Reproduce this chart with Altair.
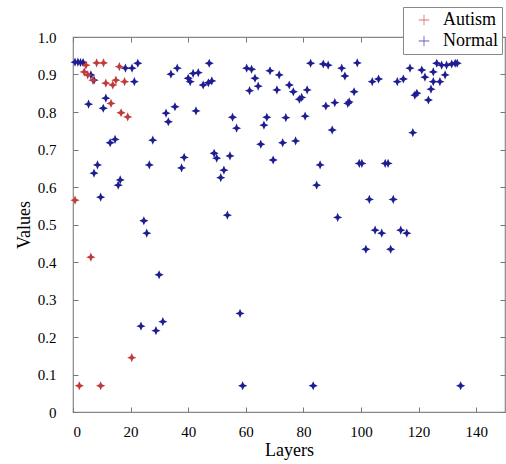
import altair as alt
import pandas as pd

# ---- data ----
autism_layers = [8.2, 10.6, 4.5, 3.9, 5.1, 6.9, 16.1, 11.4, 13.8, 14.9, 17.9, 13.2,
                 16.7, 19.0, 0.7, 6.2, 20.4, 2.2, 9.6]
autism_values = [0.931, 0.931, 0.925, 0.907, 0.899, 0.885, 0.921, 0.877, 0.872, 0.885,
                 0.881, 0.823, 0.798, 0.787, 0.565, 0.413, 0.145, 0.070, 0.070]

normal_layers = [0.7, 1.7, 2.6, 3.5, 6.2, 7.3, 18.2, 20.5, 22.5, 21.3, 5.4, 11.4, 10.5,
                 12.9, 14.6, 8.5, 7.3, 9.6, 16.4, 15.7, 24.6, 25.6, 29.9, 23.6, 28.8, 31.2,
                 27.7, 26.5, 32.3, 33.1, 35.4, 34.0, 36.2, 40.0, 40.7, 41.7, 43.5, 45.2,
                 47.0, 48.2, 47.3, 42.7, 38.6, 37.7, 49.0, 49.9, 54.5, 52.4, 51.3, 53.6,
                 55.4, 56.8, 58.0, 58.9, 60.3, 62.0, 63.2, 64.3, 61.3, 68.4, 71.6, 70.8,
                 75.1, 76.5, 78.6, 79.4, 81.3, 82.5, 86.9, 88.6, 93.3, 94.4, 98.7, 97.6,
                 95.9, 95.4, 90.9, 87.8, 90.0, 80.6, 73.9, 67.3, 66.3, 65.2, 72.8, 77.3,
                 69.5, 85.8, 84.6, 83.4, 91.9, 99.4, 100.3, 108.4, 109.4, 103.9, 106.1,
                 112.6, 114.7, 117.0, 121.1, 122.2, 119.4, 118.7, 123.4, 124.3, 125.1,
                 126.3, 125.1, 127.4, 129.2, 128.0, 129.7, 131.5, 132.7, 133.4, 118.0,
                 102.9, 111.2, 104.9, 107.2, 113.8, 115.9, 101.7, 110.3, 134.6]
normal_values = [0.933, 0.933, 0.932, 0.932, 0.899, 0.885, 0.917, 0.917, 0.930, 0.881,
                 0.821, 0.837, 0.810, 0.718, 0.727, 0.659, 0.637, 0.573, 0.619, 0.605,
                 0.510, 0.477, 0.366, 0.229, 0.217, 0.241, 0.725, 0.659, 0.797, 0.774,
                 0.814, 0.901, 0.917, 0.890, 0.881, 0.903, 0.905, 0.872, 0.878, 0.883,
                 0.930, 0.803, 0.679, 0.651, 0.690, 0.677, 0.683, 0.645, 0.625, 0.525,
                 0.786, 0.757, 0.263, 0.070, 0.917, 0.914, 0.890, 0.869, 0.857, 0.910,
                 0.899, 0.859, 0.872, 0.854, 0.834, 0.839, 0.859, 0.930, 0.928, 0.925,
                 0.917, 0.896, 0.931, 0.854, 0.827, 0.823, 0.825, 0.816, 0.752, 0.789,
                 0.785, 0.786, 0.765, 0.714, 0.718, 0.723, 0.672, 0.659, 0.605, 0.070,
                 0.519, 0.663, 0.663, 0.663, 0.663, 0.881, 0.888, 0.881, 0.888, 0.917,
                 0.912, 0.893, 0.850, 0.845, 0.832, 0.861, 0.907, 0.930, 0.881, 0.881,
                 0.899, 0.925, 0.925, 0.928, 0.930, 0.930, 0.745, 0.567, 0.567, 0.485,
                 0.477, 0.485, 0.477, 0.434, 0.434, 0.070]

groups = ["Autism", "Normal"]
x_ticks = [0, 20, 40, 60, 80, 100, 120, 140]
y_ticks = [0, 0.1, 0.2, 0.3, 0.4, 0.5, 0.6, 0.7, 0.8, 0.9, 1.0]

df = pd.DataFrame({
    "Layers": normal_layers + autism_layers,
    "Values": normal_values + autism_values,
    "Group": ["Normal"] * len(normal_layers) + ["Autism"] * len(autism_layers),
})

FONT = "Liberation Serif"
STAR = "M0,-1L0.3,-0.3L1,0L0.3,0.3L0,1L-0.3,0.3L-1,0L-0.3,-0.3Z"
PLUS = "M-1,-0.08L1,-0.08L1,0.08L-1,0.08Z M-0.08,-1L0.08,-1L0.08,1L-0.08,1Z"

x_scale = alt.Scale(domain=[0, 150], nice=False, zero=False)
y_scale = alt.Scale(domain=[0, 1], nice=False, zero=False)

base = alt.Chart(df)

points = base.mark_point(shape=STAR, filled=True, size=85, opacity=1).encode(
    x=alt.X("Layers:Q", scale=x_scale,
            axis=alt.Axis(orient="bottom", values=x_ticks, title="Layers", grid=False,
                          ticks=False, domain=False, labelPadding=12, labelFont=FONT,
                          labelFontSize=15, labelColor="black", titleFont=FONT,
                          titleFontSize=18, titleFontWeight="normal", titleColor="black",
                          titlePadding=2)),
    y=alt.Y("Values:Q", scale=y_scale,
            axis=alt.Axis(orient="left", values=y_ticks, title="Values", grid=False,
                          ticks=False, domain=False, labelPadding=17, labelFont=FONT,
                          labelFontSize=15, labelColor="black", titleFont=FONT,
                          titleFontSize=18, titleFontWeight="normal", titleColor="black",
                          titlePadding=4,
                          labelExpr="datum.value == 0 ? '0' : format(datum.value, '.1f')")),
    color=alt.Color("Group:N",
                    scale=alt.Scale(domain=groups, range=["#c23b3b", "#1e1e92"]),
                    sort=groups,
                    legend=alt.Legend(orient="none", legendX=330, legendY=-30, title=None,
                                      symbolType=PLUS, symbolSize=110, symbolOpacity=0.7,
                                      symbolOffset=8,
                                      labelFont=FONT, labelFontSize=18, labelColor="black",
                                      labelOffset=10, rowPadding=3, padding=4,
                                      strokeColor="#888888", fillColor="white")),
)

tick_axis = dict(labels=False, domain=False, grid=False, tickSize=5, offset=-5,
                 title="", tickColor="#777777")

ticks_bl = base.mark_point(opacity=0).encode(
    x=alt.X("Layers:Q", scale=x_scale, axis=alt.Axis(orient="bottom", values=x_ticks, **tick_axis)),
    y=alt.Y("Values:Q", scale=y_scale, axis=alt.Axis(orient="left", values=y_ticks, **tick_axis)),
)
ticks_tr = base.mark_point(opacity=0).encode(
    x=alt.X("Layers:Q", scale=x_scale, axis=alt.Axis(orient="top", values=x_ticks, **tick_axis)),
    y=alt.Y("Values:Q", scale=y_scale, axis=alt.Axis(orient="right", values=y_ticks, **tick_axis)),
)

chart = alt.layer(points, ticks_bl, ticks_tr).resolve_axis(
    x="independent", y="independent"
).properties(
    width=432, height=375,
    padding={"left": 73, "top": 37, "right": 1, "bottom": 52},
    autosize=alt.AutoSizeParams(type="none"),
    background="white",
).configure_view(stroke="#888888", strokeWidth=1.2)

chart.save("out.html", embed_options={"renderer": "svg", "actions": False})
